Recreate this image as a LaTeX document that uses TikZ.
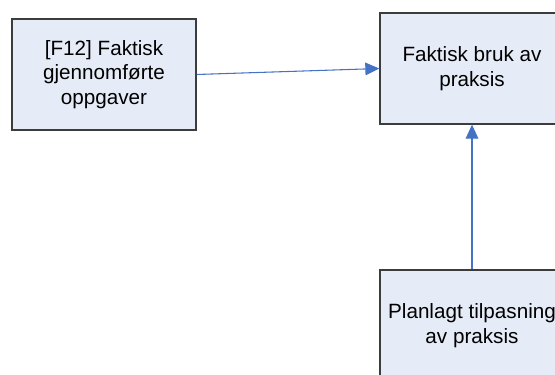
\documentclass[tikz,border=0pt]{standalone}
\usepackage{fontspec}
\setmainfont{Liberation Sans}
\usetikzlibrary{arrows.meta}
\definecolor{boxfill}{RGB}{230,236,247}
\definecolor{boxline}{RGB}{60,60,60}
\definecolor{arrowblue}{RGB}{68,114,196}
\tikzset{
  conceptbox/.style={draw=boxline, line width=1pt, fill=boxfill,
    minimum width=138pt, minimum height=83.25pt, inner sep=0pt,
    align=center, font=\fontsize{15.5pt}{18.5pt}\selectfont},
  link/.style={draw=arrowblue, line width=0.8pt,
    -{Triangle[length=10.5pt,width=9.5pt]}}
}
\begin{document}
\begin{tikzpicture}[x=0.75pt, y=-0.75pt]
  \useasboundingbox (0,0) rectangle (555,374);
  \clip (0,0) rectangle (555,374);
  \node[conceptbox] (done) at (104,74.5) {[F12] Faktisk\\gjennomførte\\oppgaver};
  \node[conceptbox] (actual) at (472,68.5) {Faktisk bruk av\\praksis};
  \node[conceptbox] (planned) at (472,325.5) {Planlagt tilpasning\\av praksis};
  \draw[link] (done.east) -- (actual.west);
  \draw[link] (planned.north) -- (actual.south);
\end{tikzpicture}
\end{document}
